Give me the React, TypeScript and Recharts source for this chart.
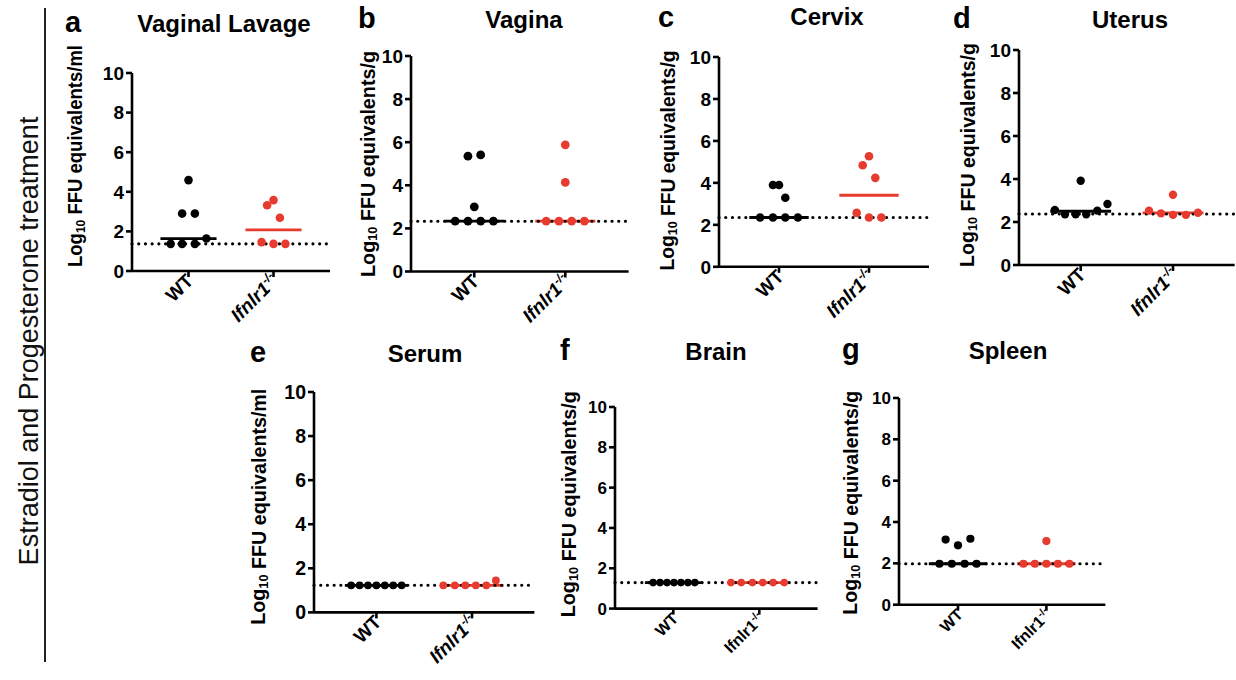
import React from "react";
import { ScatterChart, Scatter, XAxis, YAxis, ReferenceLine } from "recharts";

// ---------- data ----------
const categories = ["WT", "Ifnlr1"]; // KO label carries superscript "-/-"
const koSuperscript = "-/-";
const yTicks = [0, 2, 4, 6, 8, 10];
const sideTitle = "Estradiol and Progesterone treatment";

// a  Vaginal Lavage
const lavageWtY = [4.59, 2.9, 2.9, 1.64, 1.37, 1.37, 1.37];
const lavageWtDx = [0, -0.075, 0.075, 0.21, -0.21, -0.075, 0.075];
const lavageKoY = [3.32, 3.58, 2.69, 1.46, 1.37, 1.37];
const lavageKoDx = [-0.075, 0, 0.075, -0.14, 0, 0.14];
const lavageMedians = [1.64, 2.08];
const lavageLod = 1.37;

// b  Vagina
const vaginaWtY = [5.35, 5.41, 3.0, 2.34, 2.34, 2.34, 2.34];
const vaginaWtDx = [-0.07, 0.07, 0, -0.21, -0.07, 0.07, 0.21];
const vaginaKoY = [5.88, 4.14, 2.34, 2.34, 2.34, 2.34];
const vaginaKoDx = [0, 0, -0.21, -0.07, 0.07, 0.21];
const vaginaMedians = [2.34, 2.34];
const vaginaLod = 2.33;

// c  Cervix
const cervixWtY = [3.9, 3.9, 3.29, 2.35, 2.35, 2.35, 2.35];
const cervixWtDx = [-0.067, 0, 0.07, -0.21, -0.067, 0.07, 0.21];
const cervixKoY = [4.84, 5.27, 4.24, 2.57, 2.35, 2.35];
const cervixKoDx = [-0.07, 0, 0.07, -0.137, 0, 0.137];
const cervixMedians = [2.35, 3.41];
const cervixLod = 2.35;

// d  Uterus
const uterusWtY = [2.56, 2.36, 2.36, 2.36, 2.53, 2.84, 3.92];
const uterusWtDx = [-0.28, -0.17, -0.055, 0.06, 0.18, 0.29, 0];
const uterusKoY = [2.53, 2.4, 2.33, 2.33, 2.43, 3.27];
const uterusKoDx = [-0.26, -0.13, 0, 0.14, 0.27, 0];
const uterusMedians = [2.5, 2.42];
const uterusLod = 2.37;

// e  Serum
const serumWtY = [1.23, 1.23, 1.23, 1.23, 1.23, 1.23, 1.23];
const serumWtDx = [-0.264, -0.176, -0.088, 0, 0.088, 0.176, 0.264];
const serumKoY = [1.23, 1.23, 1.23, 1.23, 1.23, 1.45];
const serumKoDx = [-0.3, -0.18, -0.07, 0.04, 0.15, 0.25];
const serumMedians = [1.23, 1.23];
const serumLod = 1.23;

// f  Brain
const brainWtY = [1.29, 1.29, 1.29, 1.29, 1.29, 1.29, 1.29];
const brainWtDx = [-0.235, -0.154, -0.073, 0.008, 0.089, 0.17, 0.25];
const brainKoY = [1.29, 1.29, 1.29, 1.29, 1.29, 1.29];
const brainKoDx = [-0.33, -0.21, -0.08, 0.04, 0.16, 0.29];
const brainMedians = [1.29, 1.29];
const brainLod = 1.29;

// g  Spleen
const spleenWtY = [3.15, 2.87, 3.19, 1.98, 1.98, 1.98, 1.98];
const spleenWtDx = [-0.14, 0, 0.14, -0.21, -0.07, 0.075, 0.21];
const spleenKoY = [3.08, 1.98, 1.98, 1.98, 1.98, 1.98];
const spleenKoDx = [0, -0.26, -0.13, 0, 0.13, 0.26];
const spleenMedians = [1.98, 1.98];
const spleenLod = 1.98;

// ---------- layout / style ----------
const FONT = "'Liberation Sans', Arial, Helvetica, sans-serif";
const WT_COLOR = "#000000";
const KO_COLOR = "#e63b2e";
const MED_HALF = 0.33;

type Layout = {
  letter: string;
  title: string;
  unit: string;
  axisX: number;
  top: number;
  bottom: number;
  wtX: number;
  koX: number;
  tickFs: number;
  xFs: number;
  labelFs: number;
  labelLen: number;
  italic: boolean;
  r: number;
  labelX: number;
  labelY: number;
  letterX: number;
  letterY: number;
  titleX: number;
  titleY: number;
};

const panels = [
  {
    wtY: lavageWtY, wtDx: lavageWtDx, koY: lavageKoY, koDx: lavageKoDx, med: lavageMedians, lod: lavageLod,
    lay: { letter: "a", title: "Vaginal Lavage", unit: "ml", axisX: 131.5, top: 73, bottom: 271, wtX: 188, koX: 273, tickFs: 19, xFs: 19, labelFs: 20, labelLen: 222, italic: true, r: 4.3, labelX: 74, labelY: 156, letterX: 65, letterY: 32, titleX: 224, titleY: 32 } as Layout,
  },
  {
    wtY: vaginaWtY, wtDx: vaginaWtDx, koY: vaginaKoY, koDx: vaginaKoDx, med: vaginaMedians, lod: vaginaLod,
    lay: { letter: "b", title: "Vagina", unit: "g", axisX: 410.7, top: 56, bottom: 271.5, wtX: 474, koX: 565, tickFs: 19, xFs: 19, labelFs: 20.5, labelLen: 226, italic: true, r: 4.4, labelX: 367, labelY: 164, letterX: 358, letterY: 28, titleX: 524, titleY: 28 } as Layout,
  },
  {
    wtY: cervixWtY, wtDx: cervixWtDx, koY: cervixKoY, koDx: cervixKoDx, med: cervixMedians, lod: cervixLod,
    lay: { letter: "c", title: "Cervix", unit: "g", axisX: 719, top: 56.5, bottom: 266.3, wtX: 779, koX: 869, tickFs: 19, xFs: 19, labelFs: 20.5, labelLen: 220, italic: true, r: 4.3, labelX: 667, labelY: 160, letterX: 658, letterY: 27, titleX: 827, titleY: 25 } as Layout,
  },
  {
    wtY: uterusWtY, wtDx: uterusWtDx, koY: uterusKoY, koDx: uterusKoDx, med: uterusMedians, lod: uterusLod,
    lay: { letter: "d", title: "Uterus", unit: "g", axisX: 1019, top: 50, bottom: 265, wtX: 1080.7, koX: 1173, tickFs: 19, xFs: 19, labelFs: 20.5, labelLen: 224, italic: true, r: 4.2, labelX: 967, labelY: 155, letterX: 953, letterY: 28, titleX: 1130, titleY: 28 } as Layout,
  },
  {
    wtY: serumWtY, wtDx: serumWtDx, koY: serumKoY, koDx: serumKoDx, med: serumMedians, lod: serumLod,
    lay: { letter: "e", title: "Serum", unit: "ml", axisX: 314.3, top: 392.3, bottom: 612.7, wtX: 376.7, koX: 472.3, tickFs: 19.5, xFs: 19, labelFs: 21, labelLen: 236, italic: true, r: 3.9, labelX: 258, labelY: 507, letterX: 250, letterY: 362, titleX: 425, titleY: 362 } as Layout,
  },
  {
    wtY: brainWtY, wtDx: brainWtDx, koY: brainKoY, koDx: brainKoDx, med: brainMedians, lod: brainLod,
    lay: { letter: "f", title: "Brain", unit: "g", axisX: 615, top: 406.7, bottom: 608.3, wtX: 673.3, koX: 759.3, tickFs: 17, xFs: 16, labelFs: 20.5, labelLen: 226, italic: false, r: 3.8, labelX: 568, labelY: 504, letterX: 560, letterY: 360, titleX: 716, titleY: 360 } as Layout,
  },
  {
    wtY: spleenWtY, wtDx: spleenWtDx, koY: spleenKoY, koDx: spleenKoDx, med: spleenMedians, lod: spleenLod,
    lay: { letter: "g", title: "Spleen", unit: "g", axisX: 899.3, top: 398.3, bottom: 605, wtX: 958.3, koX: 1046.7, tickFs: 17, xFs: 16, labelFs: 20.5, labelLen: 224, italic: false, r: 4.1, labelX: 850, labelY: 503, letterX: 842, letterY: 359, titleX: 1008, titleY: 359 } as Layout,
  },
];

const ML = 100; // left room inside each chart
const YW = 40; // y axis width
const MT = 60;
const XH = 80; // x axis band height
const MR = 10;

function Panel({ p }: { p: (typeof panels)[number] }) {
  const L = p.lay;
  const spacing = L.koX - L.wtX;
  const off = (L.wtX - L.axisX) / spacing;
  const xmin = 1 - off;
  const xmax = 2 + off;
  const plotW = (xmax - xmin) * spacing;
  const plotH = L.bottom - L.top;
  const width = ML + plotW + MR;
  const height = MT + plotH + XH;
  const left = L.axisX - ML;
  const top = L.top - MT;

  const wtData = p.wtY.map((y, i) => ({ x: 1 + p.wtDx[i], y }));
  const koData = p.koY.map((y, i) => ({ x: 2 + p.koDx[i], y }));

  const dot = (color: string) => (props: any) => (
    <circle cx={props.cx} cy={props.cy} r={L.r} fill={color} />
  );

  const xTick = (props: any) => {
    const { x, y, payload } = props;
    const isWt = payload.value === 1;
    const ax = x + 6;
    const ay = y + 3;
    return (
      <text
        x={ax}
        y={ay}
        textAnchor="end"
        transform={`rotate(-45, ${ax}, ${ay})`}
        fontFamily={FONT}
        fontWeight={700}
        fontSize={L.xFs}
        fill="#000"
      >
        {isWt ? (
          categories[0]
        ) : (
          <>
            <tspan fontStyle={L.italic ? "italic" : "normal"}>{categories[1]}</tspan>
            <tspan dy={-L.xFs * 0.4} fontSize={L.xFs * 0.64} fontStyle={L.italic ? "italic" : "normal"}>
              {koSuperscript}
            </tspan>
          </>
        )}
      </text>
    );
  };

  const yLabel = () => {
    const cx = L.labelX - left;
    const cy = L.labelY - top;
    return (
      <text
        x={cx}
        y={cy}
        textAnchor="middle"
        dominantBaseline="central"
        transform={`rotate(-90, ${cx}, ${cy})`}
        fontFamily={FONT}
        fontWeight={700}
        fontSize={L.labelFs}
        textLength={L.labelLen}
        lengthAdjust="spacingAndGlyphs"
        fill="#000"
      >
        Log
        <tspan dy={5} fontSize={L.labelFs * 0.65}>10</tspan>
        <tspan dy={-5}>{` FFU equivalents/${L.unit}`}</tspan>
      </text>
    );
  };

  return (
    <div style={{ position: "absolute", left, top, width, height }}>
      <ScatterChart
        width={width}
        height={height}
        margin={{ top: MT, left: ML - YW, right: MR, bottom: 0 }}
      >
        <XAxis
          type="number"
          dataKey="x"
          domain={[xmin, xmax]}
          ticks={[1, 2]}
          allowDataOverflow
          axisLine={{ stroke: "#000", strokeWidth: 2.6 }}
          tickLine={{ stroke: "#000", strokeWidth: 2.6 }}
          tickSize={6}
          tick={xTick}
          height={XH}
          interval={0}
        />
        <YAxis
          type="number"
          dataKey="y"
          domain={[0, 10]}
          ticks={yTicks}
          width={YW}
          allowDataOverflow
          axisLine={{ stroke: "#000", strokeWidth: 2.6 }}
          tickLine={{ stroke: "#000", strokeWidth: 2.6 }}
          tickSize={6}
          tickMargin={2}
          tick={{ fontSize: L.tickFs, fontWeight: 700, fill: "#000", fontFamily: FONT }}
          interval={0}
          label={{ content: yLabel }}
        />
        <Scatter data={wtData} shape={dot(WT_COLOR)} isAnimationActive={false} />
        <Scatter data={koData} shape={dot(KO_COLOR)} isAnimationActive={false} />
        <ReferenceLine
          segment={[{ x: 1 - MED_HALF, y: p.med[0] }, { x: 1 + MED_HALF, y: p.med[0] }]}
          stroke={WT_COLOR}
          strokeWidth={2.8}
        />
        <ReferenceLine
          segment={[{ x: 2 - MED_HALF, y: p.med[1] }, { x: 2 + MED_HALF, y: p.med[1] }]}
          stroke={KO_COLOR}
          strokeWidth={2.8}
        />
        <ReferenceLine
          y={p.lod}
          stroke="#000"
          strokeWidth={3.1}
          strokeDasharray="0.1 6.6"
          strokeLinecap="round"
        />
      </ScatterChart>
    </div>
  );
}

export default function App() {
  return (
    <div
      style={{
        position: "absolute",
        left: 0,
        top: 0,
        width: 1236,
        height: 680,
        overflow: "hidden",
        background: "#fff",
        fontFamily: FONT,
      }}
    >
      {panels.map((p) => (
        <Panel key={p.lay.letter} p={p} />
      ))}
      <svg
        width={1236}
        height={680}
        style={{ position: "absolute", left: 0, top: 0, pointerEvents: "none" }}
      >
        <line x1={45} y1={8} x2={45} y2={662} stroke="#222" strokeWidth={2} />
        <text
          x={29}
          y={341}
          textAnchor="middle"
          dominantBaseline="central"
          transform="rotate(-90, 29, 341)"
          fontFamily={FONT}
          fontSize={27}
          fill="#111"
        >
          {sideTitle}
        </text>
        {panels.map((p) => (
          <g key={p.lay.letter}>
            <text x={p.lay.letterX} y={p.lay.letterY} fontFamily={FONT} fontWeight={700} fontSize={29} fill="#000">
              {p.lay.letter}
            </text>
            <text x={p.lay.titleX} y={p.lay.titleY} textAnchor="middle" fontFamily={FONT} fontWeight={700} fontSize={24} fill="#000">
              {p.lay.title}
            </text>
          </g>
        ))}
      </svg>
    </div>
  );
}
